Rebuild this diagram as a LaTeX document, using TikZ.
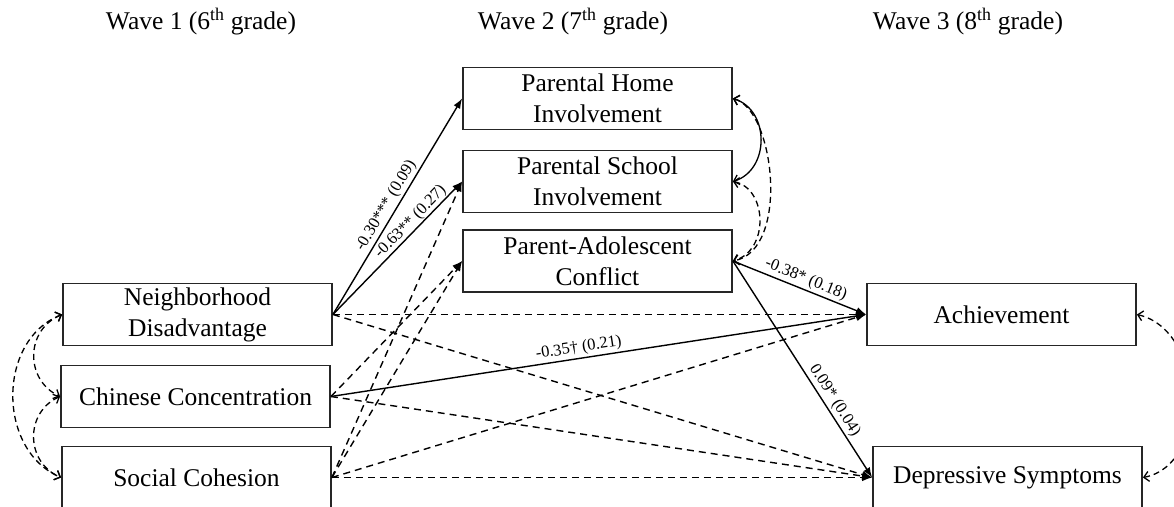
\documentclass[tikz,border=0pt]{standalone}
\usepackage{fontspec}
\setmainfont{Liberation Serif}
\usetikzlibrary{arrows.meta}
\begin{document}
\begin{tikzpicture}[x=1pt,y=-1pt,
  box/.style={draw=black!85, line width=1.8pt, minimum width=269pt, minimum height=62pt, align=center, inner sep=0pt, font=\fontsize{25.5}{31}\selectfont},
  hdr/.style={font=\fontsize{25.5}{30}\selectfont, inner sep=0pt},
  arr/.style={line width=1.4pt, -{Latex[length=10pt,width=7.5pt]}},
  darr/.style={arr, dash pattern=on 7pt off 5pt},
  lbl/.style={font=\fontsize{16.5}{18}\selectfont, sloped, above, inner sep=2pt},
  cov/.style={line width=1.3pt, {Straight Barb[length=5pt,width=10pt]}-{Straight Barb[length=5pt,width=10pt]}},
  dcov/.style={cov, dash pattern=on 6pt off 4pt}
]
\useasboundingbox (0,0) rectangle (1174,506);
\fill[white] (0,0) rectangle (1174,506);
\clip (0,0) rectangle (1174,506);

% headers
\node[hdr] (h1) at (201,22) {Wave 1 (6\textsuperscript{th} grade)};
\node[hdr] (h2) at (573,22) {Wave 2 (7\textsuperscript{th} grade)};
\node[hdr] (h3) at (968,22) {Wave 3 (8\textsuperscript{th} grade)};

% boxes
\node[box] (nd) at (197.5,314.5) {Neighborhood\\Disadvantage};
\node[box] (cc) at (195.5,396.5) {Chinese Concentration};
\node[box] (sc) at (196.5,477.5) {Social Cohesion};
\node[box] (home) at (597.5,98.5) {Parental Home\\Involvement};
\node[box] (school) at (597.5,181.5) {Parental School\\Involvement};
\node[box] (conf) at (597.5,261) {Parent-Adolescent\\Conflict};
\node[box] (ach) at (1001.5,314.5) {Achievement};
\node[box] (dep) at (1007.5,477.5) {Depressive Symptoms};

% dashed paths
\draw[darr] (nd.east) -- (ach.west);
\draw[darr] (nd.east) -- (dep.west);
\draw[darr] (cc.east) -- (conf.west);
\draw[darr] (cc.east) -- (dep.west);
\draw[darr] (sc.east) -- (school.west);
\draw[darr] (sc.east) -- (conf.west);
\draw[darr] (sc.east) -- (ach.west);
\draw[darr] (sc.east) -- (dep.west);

% solid paths
\draw[arr] (nd.east) -- node[lbl, pos=0.48] {-0.30*** (0.09)} (home.west);
\draw[arr] (nd.east) -- node[lbl, pos=0.65, inner sep=0.5pt] {-0.63** (0.27)} (school.west);
\draw[arr] (cc.east) -- node[lbl, pos=0.466] {-0.35† (0.21)} (ach.west);
\draw[arr] (conf.east) -- node[lbl, pos=0.52] {-0.38* (0.18)} (ach.west);
\draw[arr] (conf.east) -- node[lbl, pos=0.67] {0.09* (0.04)} (dep.west);

% covariances
\draw[cov] (home.east) .. controls (770,110) and (770,170) .. (school.east);
\draw[dcov] (home.east) .. controls (775,110) and (790,250) .. (conf.east);
\draw[dcov] (school.east) .. controls (767,188) and (770,250) .. (conf.east);
\draw[dcov] (nd.west) .. controls (25,330) and (25,380) .. (cc.west);
\draw[dcov] (cc.west) .. controls (25,412) and (25,462) .. (sc.west);
\draw[dcov] (nd.west) .. controls (-3,340) and (-3,450) .. (sc.west);
\draw[dcov] (ach.east) .. controls (1205,330) and (1210,465) .. (dep.east);
\end{tikzpicture}
\end{document}
